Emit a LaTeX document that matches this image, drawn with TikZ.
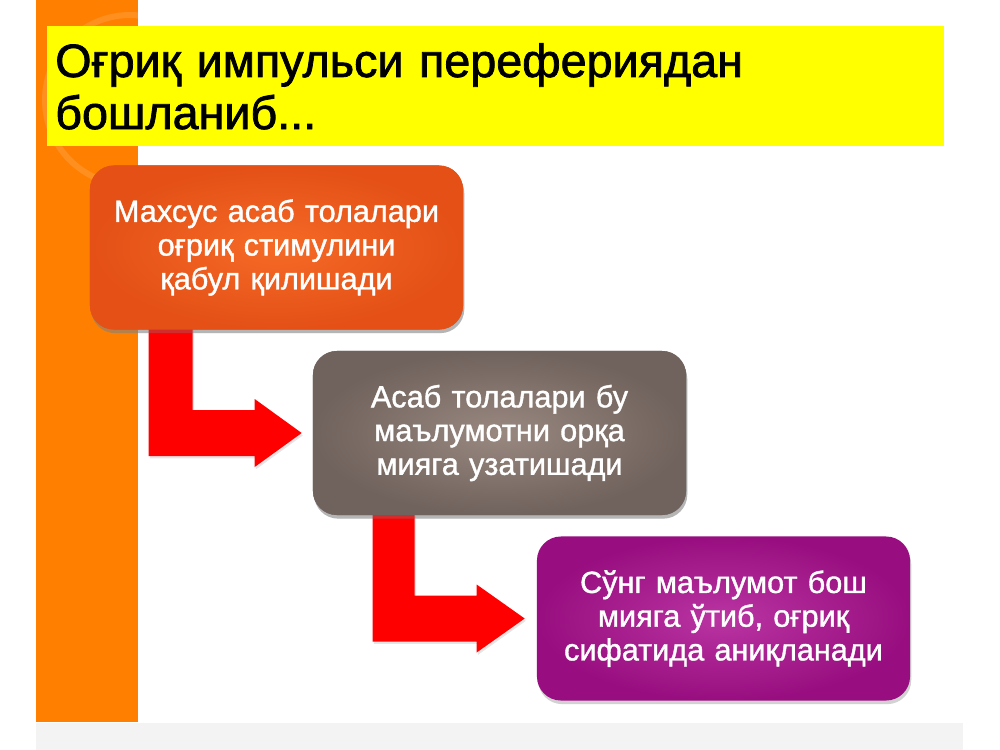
\documentclass[tikz,border=0pt]{standalone}
\usepackage{fontspec}
\setmainfont{Liberation Sans}
\newfontfamily\titlefont{Liberation Sans}[FakeBold=1.6]
\newfontfamily\boxfont{Liberation Sans}[FakeBold=1.2]
\usetikzlibrary{calc,shadows}
\definecolor{bandorange}{RGB}{255,128,0}
\definecolor{titleyellow}{RGB}{255,255,0}
\definecolor{footgrey}{RGB}{243,243,243}
\definecolor{arrowred}{RGB}{255,0,0}
\definecolor{oin}{RGB}{245,106,38}
\definecolor{oout}{RGB}{228,80,22}
\definecolor{gin}{RGB}{152,136,128}
\definecolor{gout}{RGB}{112,98,92}
\definecolor{pin}{RGB}{186,52,162}
\definecolor{pout}{RGB}{152,14,128}
\tikzset{
  stepbox/.style={rounded corners=0.6cm, minimum width=9.325cm, minimum height=4.1cm,
    text width=8.8cm, align=center, inner sep=0pt, text=white,
    font=\boxfont\fontsize{21.8}{24}\selectfont,
    drop shadow={opacity=0.35, shadow xshift=0.03cm, shadow yshift=-0.09cm}},
  arrowfill/.style={fill=arrowred,
    drop shadow={opacity=0.2, shadow xshift=0.03cm, shadow yshift=-0.06cm}},
}
\begin{document}
\begin{tikzpicture}[x=0.025cm,y=-0.025cm]
\useasboundingbox (0,0) rectangle (1000,750);
\fill[white] (0,0) rectangle (1000,750);
% left orange band
\fill[bandorange] (36,0) rectangle (138,722);
\begin{scope}
  \clip (36,0) rectangle (138,722);
  \draw[white, opacity=0.12, line width=0.15cm] (130,100) circle (85);
\end{scope}
% footer band
\fill[footgrey] (36,723) rectangle (963,750);
% title
\node[fill=titleyellow, anchor=north west, minimum width=22.4cm, minimum height=3cm,
      text width=22cm, inner xsep=0.2cm, inner ysep=0pt, align=left,
      font=\titlefont\fontsize{33.2}{37}\selectfont] (title) at (47,26)
  {Оғриқ импульси перефериядан\\бошланиб...};
% boxes
\node[stepbox, shading=radial, inner color=oin, outer color=oout] (b1) at (276.5,247.5)
  {Махсус асаб толалари\\оғриқ стимулини\\қабул қилишади};
\node[stepbox, shading=radial, inner color=gin, outer color=gout] (b2) at (499.5,433)
  {Асаб толалари бу\\маълумотни орқа\\мияга узатишади};
\node[stepbox, shading=radial, inner color=pin, outer color=pout] (b3) at (723.5,618.5)
  {Сўнг маълумот бош\\мияга ўтиб, оғриқ\\сифатида аниқланади};
% arrows
\coordinate (a1s) at ($(b1.south west)+(59,-2)$);
\coordinate (a1t) at ($(b2.west)+(-11,0)$);
\coordinate (a2s) at ($(b2.south west)+(60,-2)$);
\coordinate (a2t) at ($(b3.west)+(-12,0)$);
\fill[arrowfill] (a1s) -- ++(44,0) |- ($(a1t)+(-47,-23)$) -- ++(0,-11) -- (a1t)
  -- ++(-47,34) -- ++(0,-11) -| (a1s) -- cycle;
\fill[arrowfill] (a2s) -- ++(42,0) |- ($(a2t)+(-48,-23)$) -- ++(0,-11) -- (a2t)
  -- ++(-48,34) -- ++(0,-11) -| (a2s) -- cycle;
% redraw boxes over arrow tops
\node[stepbox, shading=radial, inner color=oin, outer color=oout, drop shadow={opacity=0}] at (b1)
  {Махсус асаб толалари\\оғриқ стимулини\\қабул қилишади};
\node[stepbox, shading=radial, inner color=gin, outer color=gout, drop shadow={opacity=0}] at (b2)
  {Асаб толалари бу\\маълумотни орқа\\мияга узатишади};
\end{tikzpicture}
\end{document}
